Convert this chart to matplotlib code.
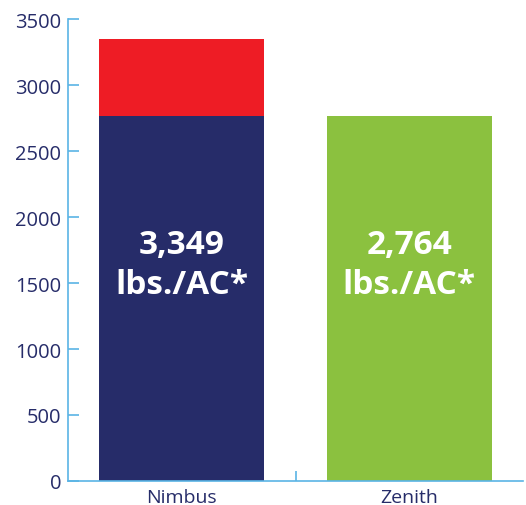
import numpy as np
import matplotlib.pyplot as plt

plt.rcParams['font.family'] = ['Open Sans', 'DejaVu Sans']

categories = ["Nimbus", "Zenith"]
base_values = [2764, 2764]
extra_values = [585, 0]
totals = [3349, 2764]
labels = ["3,349\nlbs./AC*", "2,764\nlbs./AC*"]

NAVY = "#262C69"
RED = "#EE1C25"
GREEN = "#8BC13F"
AXIS = "#5AB4E5"

fig = plt.figure(figsize=(5.26, 5.06), dpi=100)
ax = fig.add_axes([68/526, 24/506, 455/526, 462/506])

x = np.arange(len(categories))
ax.bar(x, base_values, width=0.725, color=[NAVY, GREEN])
ax.bar(x, extra_values, width=0.725, bottom=base_values, color=RED)

for xi, lab in zip(x, labels):
    ax.text(xi, 1640, lab, ha="center", va="center", color="white",
            fontsize=24, fontweight="bold", linespacing=1.3)

ax.set_xlim(-0.5, 1.5)
ax.set_ylim(0, 3500)
ax.set_yticks(np.arange(0, 3501, 500))
ax.set_xticks(x)
ax.set_xticklabels(categories)
ax.set_xticks([0.5], minor=True)

for s in ["top", "right"]:
    ax.spines[s].set_visible(False)
for s in ["left", "bottom"]:
    ax.spines[s].set_color(AXIS)
    ax.spines[s].set_linewidth(1.2)

ax.tick_params(axis="y", direction="in", length=8, color=AXIS, labelcolor=NAVY,
               labelsize=14.5, pad=5, width=1.2)
ax.tick_params(axis="x", which="major", length=0, labelcolor=NAVY, labelsize=14, pad=5)
ax.tick_params(axis="x", which="minor", direction="in", length=7, color=AXIS, width=1.2)

fig.savefig("out.png", dpi=100)
